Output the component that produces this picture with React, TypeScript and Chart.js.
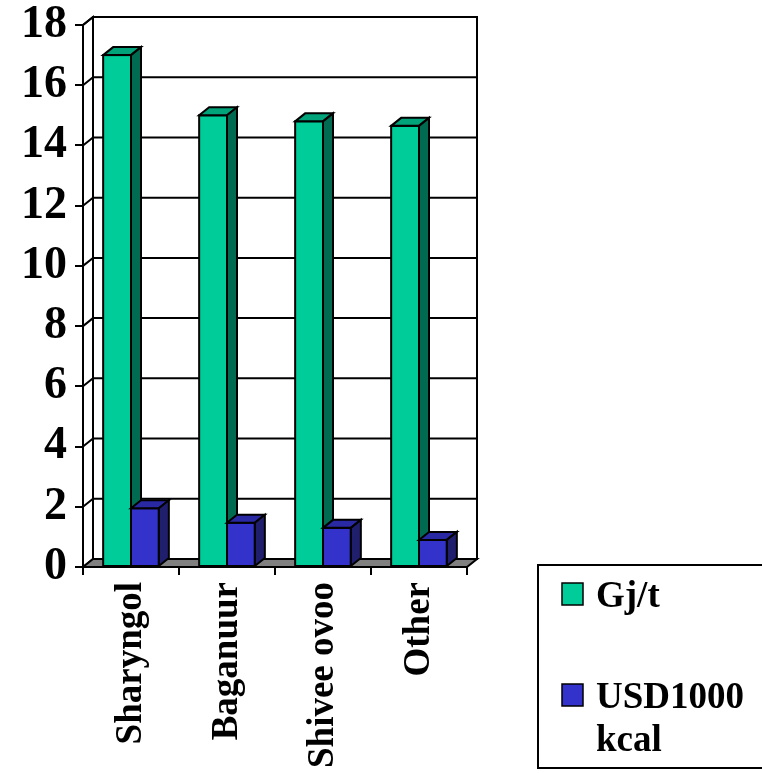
import React, { useEffect, useRef } from 'react';
import { Chart, registerables } from 'chart.js';

Chart.register(...registerables);

const categories = ['Sharyngol', 'Baganuur', 'Shivee ovoo', 'Other'];
const gjPerTonne = [17, 15, 14.8, 14.65];
const usdPer1000kcal = [1.95, 1.47, 1.3, 0.9];
const seriesLabels = ['Gj/t', 'USD1000 kcal'];
const yMin = 0;
const yMax = 18;
const yStep = 2;

const FRONT = ['#00CC99', '#3333CC'];
const TOP = ['#00A37A', '#2929A3'];
const SIDE = ['#006B50', '#1F1F6E'];
const FLOOR = '#808080';
const DX = 10;
const DY = 8;
const LW = 2;
const FONT_FAMILY = "'Liberation Serif', 'Times New Roman', serif";

const threeD = {
  id: 'threeD',
  beforeDatasetsDraw(chart: any) {
    const { ctx, chartArea: ca, scales } = chart;
    const y = scales.y;
    ctx.save();
    ctx.lineWidth = LW;
    ctx.strokeStyle = '#000';
    ctx.lineJoin = 'miter';
    const bl = ca.left + DX, bt = ca.top - DY, br = ca.right + DX, bb = ca.bottom - DY;
    ctx.fillStyle = '#fff';
    ctx.fillRect(bl, bt, br - bl, bb - bt);
    ctx.strokeRect(bl, bt, br - bl, bb - bt);
    ctx.beginPath();
    ctx.moveTo(ca.left, ca.bottom);
    ctx.lineTo(ca.left, ca.top);
    ctx.lineTo(bl, bt);
    ctx.lineTo(bl, bb);
    ctx.stroke();
    y.ticks.forEach((t: any) => {
      const py = y.getPixelForValue(t.value);
      ctx.beginPath();
      ctx.moveTo(ca.left, py);
      ctx.lineTo(bl, py - DY);
      ctx.lineTo(br, py - DY);
      ctx.stroke();
    });
    ctx.beginPath();
    ctx.moveTo(ca.left, ca.bottom);
    ctx.lineTo(ca.right, ca.bottom);
    ctx.lineTo(br, bb);
    ctx.lineTo(bl, bb);
    ctx.closePath();
    ctx.fillStyle = FLOOR;
    ctx.fill();
    ctx.stroke();
    const nCat = chart.data.labels.length;
    for (let i = 0; i < nCat; i++) {
      chart.data.datasets.forEach((ds: any, d: number) => {
        const el = chart.getDatasetMeta(d).data[i];
        if (!el) return;
        const { x, y: top, base, width } = el.getProps(['x', 'y', 'base', 'width'], true);
        const l = x - width / 2, r = x + width / 2;
        ctx.fillStyle = FRONT[d];
        ctx.fillRect(l, top, r - l, base - top);
        ctx.strokeRect(l, top, r - l, base - top);
        ctx.beginPath();
        ctx.moveTo(l, top);
        ctx.lineTo(r, top);
        ctx.lineTo(r + DX, top - DY);
        ctx.lineTo(l + DX, top - DY);
        ctx.closePath();
        ctx.fillStyle = TOP[d];
        ctx.fill();
        ctx.stroke();
        ctx.beginPath();
        ctx.moveTo(r, top);
        ctx.lineTo(r + DX, top - DY);
        ctx.lineTo(r + DX, base - DY);
        ctx.lineTo(r, base);
        ctx.closePath();
        ctx.fillStyle = SIDE[d];
        ctx.fill();
        ctx.stroke();
      });
    }
    ctx.restore();
    return false;
  },
  afterDraw(chart: any) {
    const { ctx } = chart;
    ctx.save();
    ctx.lineWidth = LW;
    ctx.strokeStyle = '#000';
    ctx.strokeRect(538, 565, 240, 203);
    ctx.font = `bold 37px ${FONT_FAMILY}`;
    ctx.fillStyle = '#000';
    ctx.textBaseline = 'alphabetic';
    ctx.textAlign = 'left';
    const maxW = 160;
    const itemTops = [583, 684];
    chart.data.datasets.forEach((ds: any, d: number) => {
      const top = itemTops[d];
      ctx.fillStyle = FRONT[d];
      ctx.fillRect(562, top, 21, 22);
      ctx.lineWidth = 1.5;
      ctx.strokeRect(562, top, 21, 22);
      ctx.fillStyle = '#000';
      const words = String(ds.label).split(' ');
      const lines: string[] = [];
      let cur = '';
      words.forEach((w) => {
        const test = cur ? cur + ' ' + w : w;
        if (cur && ctx.measureText(test).width > maxW) {
          lines.push(cur);
          cur = w;
        } else cur = test;
      });
      if (cur) lines.push(cur);
      lines.forEach((ln, k) => {
        ctx.fillText(ln, 596, top + 24 + k * 43);
      });
    });
    ctx.restore();
  },
};

export default function App() {
  const ref = useRef<HTMLCanvasElement | null>(null);
  useEffect(() => {
    if (!ref.current) return;
    const chart = new Chart(ref.current, {
      type: 'bar',
      data: {
        labels: categories,
        datasets: [
          { label: seriesLabels[0], data: gjPerTonne, backgroundColor: FRONT[0] },
          { label: seriesLabels[1], data: usdPer1000kcal, backgroundColor: FRONT[1] },
        ],
      },
      options: {
        animation: false,
        responsive: false,
        maintainAspectRatio: false,
        layout: { padding: { top: 25, right: 295, bottom: 0, left: 0 } },
        plugins: { legend: { display: false }, tooltip: { enabled: false } },
        datasets: { bar: { categoryPercentage: 0.58, barPercentage: 1 } },
        scales: {
          x: {
            afterFit: (s: any) => {
              s.height = 206;
              s.paddingLeft = 0;
              s.paddingRight = 0;
            },
            grid: { drawOnChartArea: false, drawTicks: true, tickLength: 8, color: '#000', lineWidth: LW, offset: true },
            border: { display: true, color: '#000', width: LW },
            ticks: {
              autoSkip: false,
              maxRotation: 90,
              minRotation: 90,
              padding: 7,
              color: '#000',
              font: { family: FONT_FAMILY, weight: 'bold', size: 37 },
            },
          },
          y: {
            min: yMin,
            max: yMax,
            afterFit: (s: any) => {
              s.width = 83;
              s.paddingTop = 0;
              s.paddingBottom = 0;
            },
            grid: { drawOnChartArea: false, drawTicks: true, tickLength: 8, color: '#000', lineWidth: LW },
            border: { display: true, color: '#000', width: LW },
            ticks: {
              stepSize: yStep,
              padding: 8,
              color: '#000',
              font: { family: FONT_FAMILY, weight: 'bold', size: 46 },
            },
          },
        },
      },
      plugins: [threeD],
    } as any);
    return () => chart.destroy();
  }, []);
  return (
    <div style={{ position: 'fixed', left: 0, top: 0, width: 762, height: 773, background: '#fff' }}>
      <canvas ref={ref} width={762} height={773} style={{ display: 'block', width: 762, height: 773 }} />
    </div>
  );
}
